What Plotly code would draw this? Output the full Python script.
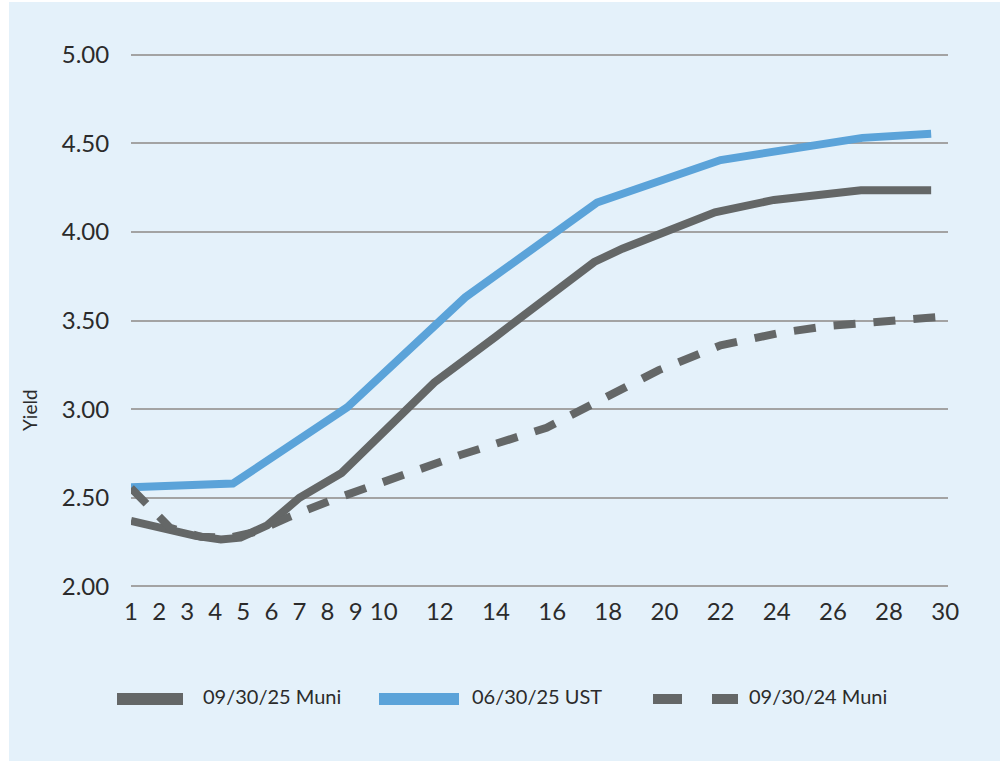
import plotly.graph_objects as go

# Yield curves (maturity in years -> yield, %)
muni_2025_years = [1, 2.4, 3.3, 4.2, 4.9, 5.85, 7.0, 8.5, 11.8, 14.0, 15.8, 17.5, 18.5, 19.5, 21.8, 23.9, 27.0, 29.5]
muni_2025_yield = [2.37, 2.32, 2.285, 2.265, 2.275, 2.345, 2.50, 2.64, 3.15, 3.41, 3.63, 3.83, 3.905, 3.97, 4.11, 4.18, 4.235, 4.235]

ust_2025_years = [1, 4.63, 8.7, 12.9, 17.6, 22.0, 27.05, 29.5]
ust_2025_yield = [2.56, 2.58, 3.01, 3.63, 4.165, 4.405, 4.53, 4.553]

muni_2024_years = [1, 2.4, 3.5, 4.5, 5.5, 6.6, 8.2, 9.5, 10.9, 12.7, 15.8, 17.7, 19.8, 22.0, 24.1, 25.9, 27.7, 29.8]
muni_2024_yield = [2.555, 2.33, 2.28, 2.275, 2.31, 2.39, 2.49, 2.56, 2.645, 2.74, 2.895, 3.05, 3.22, 3.36, 3.43, 3.47, 3.49, 3.52]

x_ticks = [1, 2, 3, 4, 5, 6, 7, 8, 9, 10, 12, 14, 16, 18, 20, 22, 24, 26, 28, 30]
y_ticks = [2.0, 2.5, 3.0, 3.5, 4.0, 4.5, 5.0]

series_names = ["09/30/25 Muni", "06/30/25 UST", "09/30/24 Muni"]

GRAY = "#646767"
BLUE = "#5BA3D9"
BG = "#E4F1FA"
GRID = "#A3A3A3"
TEXT = "#2B2B2B"
FONT = "Lato"

W, H = 1000, 761
L, R, T, B = 131, 52, 51, 171
PW, PH = W - L - R, H - T - B


def px_x(x):
    return (x - L) / PW


def px_y(y):
    return (H - B - y) / PH


fig = go.Figure()

fig.add_trace(go.Scatter(x=muni_2025_years, y=muni_2025_yield, mode="lines",
                         name=series_names[0], line=dict(color=GRAY, width=8)))
fig.add_trace(go.Scatter(x=ust_2025_years, y=ust_2025_yield, mode="lines",
                         name=series_names[1], line=dict(color=BLUE, width=8)))
fig.add_trace(go.Scatter(x=muni_2024_years, y=muni_2024_yield, mode="lines",
                         name=series_names[2], line=dict(color=GRAY, width=8, dash="22px,18px")))

shapes = [
    # panel background
    dict(type="rect", xref="paper", yref="paper", layer="below",
         x0=px_x(9), x1=px_x(1000), y0=px_y(761), y1=px_y(2),
         fillcolor=BG, line=dict(width=0)),
    # legend swatches
    dict(type="line", xref="paper", yref="paper", x0=px_x(117), x1=px_x(183),
         y0=px_y(699), y1=px_y(699), line=dict(color=GRAY, width=12)),
    dict(type="line", xref="paper", yref="paper", x0=px_x(379), x1=px_x(459),
         y0=px_y(699), y1=px_y(699), line=dict(color=BLUE, width=12)),
    dict(type="line", xref="paper", yref="paper", x0=px_x(653), x1=px_x(738),
         y0=px_y(699), y1=px_y(699), line=dict(color=GRAY, width=10, dash="29px,30px")),
]

annotations = [
    dict(text="Yield", xref="paper", yref="paper", x=px_x(29), y=px_y(410),
         textangle=-90, showarrow=False, xanchor="center", yanchor="middle",
         font=dict(family=FONT, size=19, color=TEXT)),
]
for label, lx in zip(series_names, [201, 470, 747]):
    annotations.append(dict(text=label, xref="paper", yref="paper", x=px_x(lx), y=px_y(696),
                            showarrow=False, xanchor="left", yanchor="middle",
                            font=dict(family=FONT, size=20, color=TEXT)))

fig.update_layout(
    width=W, height=H,
    margin=dict(l=L, r=R, t=T, b=B),
    paper_bgcolor="white",
    plot_bgcolor="rgba(0,0,0,0)",
    showlegend=False,
    shapes=shapes,
    annotations=annotations,
    font=dict(family=FONT, color=TEXT),
)

fig.update_xaxes(
    range=[1, 30.1], tickvals=x_ticks, ticktext=[str(v) for v in x_ticks],
    showgrid=False, zeroline=False, showline=False,
    ticks="outside", ticklen=0, ticklabelstandoff=0,
    tickfont=dict(family=FONT, size=24, color=TEXT),
)
fig.update_yaxes(
    range=[1.98, 5.02], tickvals=y_ticks, tickformat=".2f",
    showgrid=True, gridcolor=GRID, gridwidth=2, zeroline=False, showline=False,
    ticks="outside", ticklen=0, ticklabelstandoff=16,
    tickfont=dict(family=FONT, size=24, color=TEXT),
)

fig.write_html("out.html")
